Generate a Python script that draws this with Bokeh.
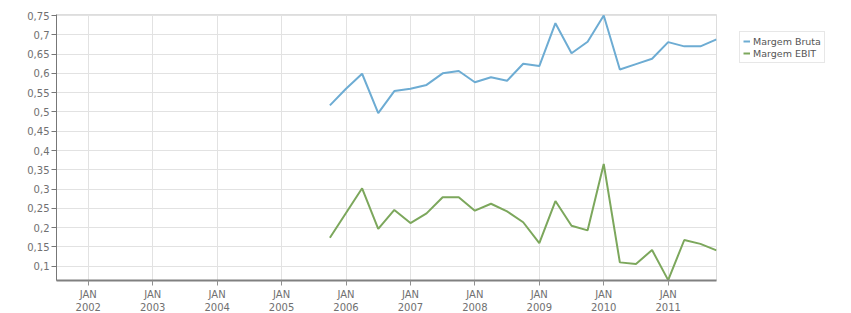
from bokeh.plotting import figure
from bokeh.models import (ColumnDataSource, Range1d, FixedTicker, CustomJSTickFormatter,
                          Legend, LegendItem)
from bokeh.embed import file_html
from bokeh.resources import INLINE

# ---- data (quarterly) ----
dates = ["2005-10", "2006-01", "2006-04", "2006-07", "2006-10",
         "2007-01", "2007-04", "2007-07", "2007-10",
         "2008-01", "2008-04", "2008-07", "2008-10",
         "2009-01", "2009-04", "2009-07", "2009-10",
         "2010-01", "2010-04", "2010-07", "2010-10",
         "2011-01", "2011-04", "2011-07", "2011-10"]
margem_bruta = [0.517, 0.560, 0.599, 0.497, 0.554,
                0.560, 0.570, 0.600, 0.606,
                0.577, 0.590, 0.581, 0.625,
                0.619, 0.730, 0.652, 0.682,
                0.750, 0.610, 0.624, 0.638,
                0.681, 0.670, 0.670, 0.688]
margem_ebit = [0.174, 0.238, 0.302, 0.197, 0.246,
               0.212, 0.237, 0.279, 0.279,
               0.244, 0.262, 0.242, 0.214,
               0.160, 0.269, 0.205, 0.193,
               0.365, 0.110, 0.106, 0.142,
               0.064, 0.168, 0.158, 0.141]
x_tick_years = [2002, 2003, 2004, 2005, 2006, 2007, 2008, 2009, 2010, 2011]
y_ticks = [0.1, 0.15, 0.2, 0.25, 0.3, 0.35, 0.4, 0.45, 0.5, 0.55, 0.6, 0.65, 0.7, 0.75]

xs = [int(d[:4]) + (int(d[5:7]) - 1) / 12.0 for d in dates]
src = ColumnDataSource(dict(x=xs, bruta=margem_bruta, ebit=margem_ebit))

FONT = "DejaVu Sans"
TXT = "#707070"

p = figure(width=851, height=313, output_backend="svg", toolbar_location=None,
           x_range=Range1d(2001.507, 2011.75), y_range=Range1d(0.063, 0.7526),
           min_border_left=56, min_border_right=135, min_border_top=14, min_border_bottom=33)
p.frame_width = 660
p.frame_height = 266

p.background_fill_color = "white"
p.border_fill_color = "white"
p.outline_line_color = "#dddddd"
p.outline_line_width = 1

# grids
p.xgrid.ticker = FixedTicker(ticks=x_tick_years)
p.ygrid.ticker = FixedTicker(ticks=y_ticks)
p.xgrid.grid_line_color = "#e2e2e2"
p.ygrid.grid_line_color = "#e2e2e2"

# axes
xa = p.xaxis[0]
xa.ticker = FixedTicker(ticks=x_tick_years)
xa.major_label_overrides = {y: "JAN\n%d" % y for y in x_tick_years}
xa.axis_line_color = "#808080"
xa.axis_line_width = 2
xa.major_tick_line_color = "#909090"
xa.major_tick_out = 5
xa.major_tick_in = 0
xa.minor_tick_line_color = None
xa.major_label_standoff = 3
xa.major_label_text_font = FONT
xa.major_label_text_font_size = "10px"
xa.major_label_text_color = TXT
xa.major_label_text_line_height = 1.25

ya = p.yaxis[0]
ya.ticker = FixedTicker(ticks=y_ticks)
ya.formatter = CustomJSTickFormatter(code="""
    let s = tick.toFixed(2);
    if (s.endsWith('0')) { s = s.slice(0, -1); }
    return s.replace('.', ',');
""")
ya.axis_line_color = "#777777"
ya.axis_line_width = 1
ya.major_tick_line_color = "#777777"
ya.major_tick_out = 5
ya.major_tick_in = 0
ya.minor_tick_line_color = None
ya.major_label_standoff = 2
ya.major_label_text_font = FONT
ya.major_label_text_font_size = "10px"
ya.major_label_text_color = TXT

BLUE = "#6dacd3"
GREEN = "#7ca75c"
r1 = p.line("x", "bruta", source=src, line_color=BLUE, line_width=2)
r2 = p.line("x", "ebit", source=src, line_color=GREEN, line_width=2)

legend = Legend(items=[LegendItem(label="Margem Bruta", renderers=[r1]),
                       LegendItem(label="Margem EBIT", renderers=[r2])],
                location=(23, 217), orientation="vertical")
legend.border_line_color = "#d0d0d0"
legend.border_line_width = 1
legend.background_fill_color = "white"
legend.padding = 3
legend.spacing = 0
legend.margin = 0
legend.glyph_width = 7
legend.glyph_height = 12
legend.label_height = 12
legend.label_standoff = 3
legend.label_text_font = FONT
legend.label_text_font_size = "9.5px"
legend.label_text_line_height = 1.2
legend.label_text_color = "#555555"
legend.label_text_baseline = "middle"
p.add_layout(legend, "right")

open("out.html", "w").write(file_html(p, INLINE))
